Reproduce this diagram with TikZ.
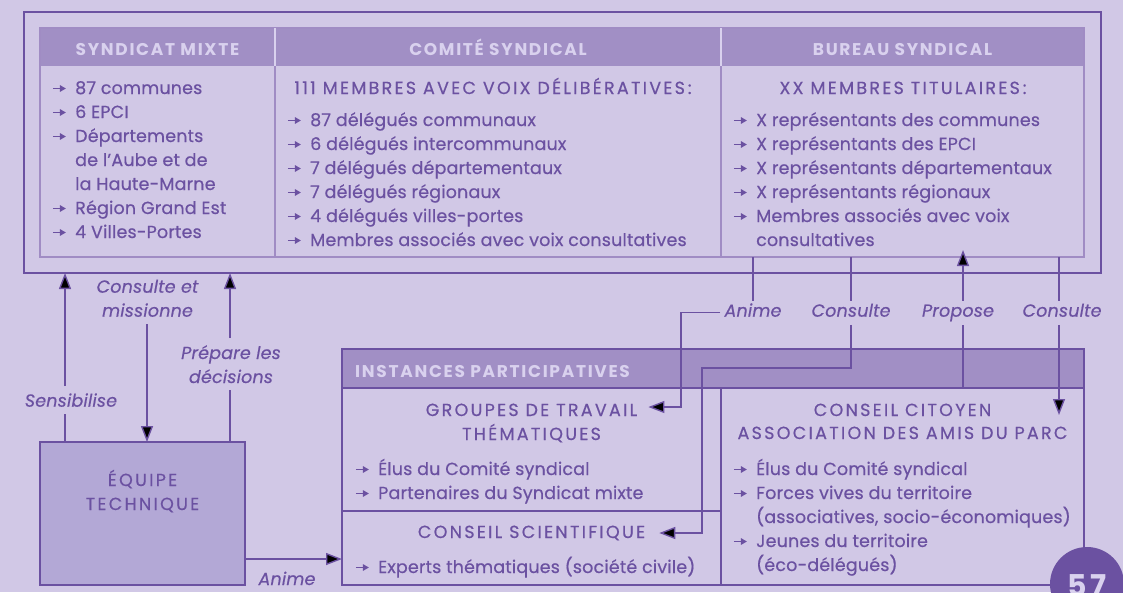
\documentclass[tikz,border=0pt]{standalone}
\usepackage{fontspec}
\setmainfont{Poppins}[LetterSpace=1, FakeBold=0.5]
\newfontfamily\capsfont{Poppins}[LetterSpace=13, FakeBold=0.5]
\newfontfamily\hdfont{Poppins}[LetterSpace=10]
\usetikzlibrary{arrows.meta,calc}
\definecolor{bg}{HTML}{D1C8E6}
\definecolor{hdr}{HTML}{A18FC5}
\definecolor{dk}{HTML}{6B51A1}
\definecolor{htx}{HTML}{D9D1EE}
\definecolor{eqc}{HTML}{B3A8D6}
\definecolor{tbl}{HTML}{A08CC4}
\newcommand\arr{\tikz[x=1pt,y=1pt,baseline=0pt]\draw[dk,line width=1.4pt,-{Triangle[length=6pt,width=6.5pt]}] (0,5.5) -- (13,5.5);}
\newcounter{tn}
\newcommand\li[3]{\stepcounter{tn}\node[txt,anchor=base west] (t\arabic{tn}) at (#1,#2) {\makebox[23pt][l]{\arr}#3};}
\newcommand\lc[3]{\stepcounter{tn}\node[txt,anchor=base west] (t\arabic{tn}) at (#1+23,#2) {#3};}
\tikzset{
  txt/.style={inner sep=0pt, text=dk, font=\fontsize{17.5}{24}\selectfont},
  caps/.style={inner sep=0pt, text=dk, font=\capsfont\fontsize{17.5}{24}\selectfont},
  hd/.style={inner sep=0pt, text=htx, font=\hdfont\bfseries\fontsize{17}{20}\selectfont},
  lab/.style={text=dk, font=\itshape\fontsize{17.5}{24}\selectfont, inner xsep=4pt, inner ysep=4pt, text height=12pt, text depth=4pt},
  lab2/.style={text=dk, font=\itshape\fontsize{17.5}{24}\selectfont, inner xsep=4pt, inner ysep=7pt, align=center},
  ln/.style={draw=dk, line width=1.4pt},
  arw/.style={ln, -{Triangle[length=16pt,width=12pt]}},
  cell/.style={draw=tbl, line width=1.2pt, anchor=north west, inner sep=0pt, outer sep=0pt, minimum height=229pt},
  box/.style={draw=dk, line width=1.4pt, anchor=north west, inner sep=0pt, outer sep=0pt},
}
\begin{document}
\begin{tikzpicture}[x=1pt,y=-1pt]
\fill[bg] (0,0) rectangle (1123,592);
\useasboundingbox (0,0) rectangle (1123,592);
% ---------- top block ----------
\node[box, minimum width=1077pt, minimum height=261pt] (outer) at (24,12) {};
\fill[hdr] (40,28) rectangle (1084,66);
\node[cell, minimum width=235pt] (sm) at (40,28) {};
\node[cell, minimum width=446pt] (cs) at (275,28) {};
\node[cell, minimum width=363pt] (bur) at (721,28) {};
\draw[htx, line width=1.2pt] (sm.north east) -- (275,66) (cs.north east) -- (721,66);
\node[hd, anchor=base] (hsm) at (157.5,55.7) {SYNDICAT MIXTE};
\node[hd, anchor=base] (hcs) at (498,55.7) {COMITÉ SYNDICAL};
\node[hd, anchor=base] (hbu) at (902.5,55.7) {BUREAU SYNDICAL};
% column 1
\li{52}{94}{87 communes}
\li{52}{118}{6 EPCI}
\li{52}{142}{Départements}
\lc{52}{166}{de l'Aube et de}
\lc{52}{190}{la Haute-Marne}
\li{52}{214}{Région Grand Est}
\li{52}{238}{4 Villes-Portes}
% column 2
\node[caps, anchor=base] (cst) at (493,94) {111 MEMBRES AVEC VOIX DÉLIBÉRATIVES\,:};
\li{287}{126}{87 délégués communaux}
\li{287}{150}{6 délégués intercommunaux}
\li{287}{174}{7 délégués départementaux}
\li{287}{198}{7 délégués régionaux}
\li{287}{222}{4 délégués villes-portes}
\li{287}{246}{Membres associés avec voix consultatives}
% column 3
\node[caps, anchor=base] (but) at (903,94) {XX MEMBRES TITULAIRES\,:};
\li{733}{126}{X représentants des communes}
\li{733}{150}{X représentants des EPCI}
\li{733}{174}{X représentants départementaux}
\li{733}{198}{X représentants régionaux}
\li{733}{222}{Membres associés avec voix}
\lc{733}{246}{consultatives}
% ---------- equipe ----------
\node[box, fill=eqc, minimum width=205pt, minimum height=143pt] (eq) at (40,442) {};
\node[caps, align=center, anchor=base] (eqt) at (142.5,510) {ÉQUIPE\\TECHNIQUE};
\coordinate (sx) at (65,0);
\coordinate (mx) at (147,0);
\coordinate (px1) at (230,0);
\node[lab2, anchor=base] (lsens) at (71,406.7) {Sensibilise};
\node[lab2, anchor=base] (lcm) at (147.5,316.7) {Consulte et\\missionne};
\node[lab2, anchor=base] (lprep) at (231,383) {Prépare les\\décisions};
\draw[ln] (sx |- eq.north) -- (sx |- lsens.south);
\draw[arw] (sx |- lsens.north) -- (sx |- outer.south);
\draw[ln] (mx |- outer.south) -- (mx |- lcm.north);
\draw[arw] (mx |- lcm.south) -- (mx |- eq.north);
\draw[ln] (px1 |- eq.north) -- (px1 |- lprep.south);
\draw[arw] (px1 |- lprep.north) -- (px1 |- outer.south);
% ---------- instances ----------
\node[box, fill=hdr, minimum width=742pt, minimum height=39pt] (ihd) at (342,349) {};
\node[box, minimum width=379pt, minimum height=123pt] (grp) at (342,388) {};
\node[box, minimum width=379pt, minimum height=74pt] (sci) at (342,511) {};
\node[box, minimum width=363pt, minimum height=197pt] (cit) at (721,388) {};
\node[hd, anchor=base west] (ihdt) at (355,377) {INSTANCES PARTICIPATIVES};
\node[caps, anchor=base, inner xsep=11pt, text height=18pt, text depth=0pt] (grp1) at (531.5,416) {GROUPES DE TRAVAIL};
\node[caps, anchor=base] (grp2) at (531.5,440) {THÉMATIQUES};
\li{355}{475}{Élus du Comité syndical}
\li{355}{499}{Partenaires du Syndicat mixte}
\node[caps, anchor=base, inner xsep=14pt, text height=10pt, text depth=0pt] (sci1) at (531.5,538) {CONSEIL SCIENTIFIQUE};
\li{355}{573}{Experts thématiques (société civile)}
\node[caps, anchor=base] (cit1) at (902.5,416) {CONSEIL CITOYEN};
\node[caps, anchor=base] (cit2) at (902.5,439) {ASSOCIATION DES AMIS DU PARC};
\li{733}{475}{Élus du Comité syndical}
\li{733}{499}{Forces vives du territoire}
\lc{733}{523}{(associatives, socio-économiques)}
\li{733}{547}{Jeunes du territoire}
\lc{733}{571}{(éco-délégués)}
% equipe -> instances
\coordinate (ay) at (0,559);
\draw[arw] (eq.east |- ay) -- (sci.west |- ay);
\node[lab, anchor=base] (lan0) at (287,585) {Anime};
% ---------- top connectors ----------
\node[lab, anchor=base] (lan) at (753,316.7) {Anime};
\node[lab, anchor=base] (lco1) at (851,316.7) {Consulte};
\node[lab, anchor=base] (lpro) at (958,316.7) {Propose};
\node[lab, anchor=base] (lco2) at (1062,316.7) {Consulte};
\coordinate (ax) at (681,0);
\coordinate (cj) at (702,368);
\coordinate (px) at (963,0);
\coordinate (cx) at (1059,0);
\draw[ln] (lan.north |- bur.south) -- (lan.north);
\draw[arw] (lan.west) -| (ax |- grp1.east) -- (grp1.east);
\draw[ln] (lco1.north |- bur.south) -- (lco1.north);
\draw[arw] (lco1.south) |- (cj) |- (sci1.east);
\draw[ln] (px |- cit.north) -- (px |- lpro.south);
\draw[arw] (px |- lpro.north) -- ($(px |- bur.south)+(0,-7)$);
\draw[ln] (cx |- bur.south) -- (cx |- lco2.north);
\draw[arw] (cx |- lco2.south) -- ($(cx |- cit.north)+(0,27)$);
% ---------- page number ----------
\node[circle, fill=dk, minimum size=74pt, inner sep=0pt] (pg) at (1087,584) {};
\node[text=htx, font=\hdfont\bfseries\fontsize{30}{30}\selectfont, anchor=base, inner sep=0pt] (pgt) at (1087,596) {57};
\end{tikzpicture}
\end{document}
